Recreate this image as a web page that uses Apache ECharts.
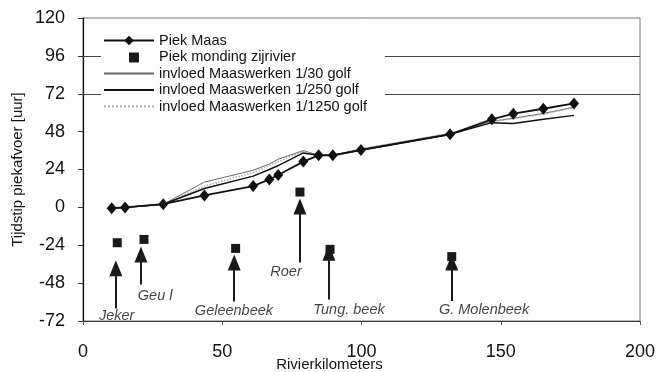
<!DOCTYPE html>
<html>
<head>
<meta charset="utf-8">
<script src="https://cdn.jsdelivr.net/npm/echarts@6/dist/echarts.min.js"></script>
<style>
html,body{margin:0;padding:0;background:#fff;}
#c{width:658px;height:372px;}
</style>
</head>
<body>
<div id="c"></div>
<script>
// Rivierkilometers of the points along the Maas
const km = [10.3, 15.1, 28.8, 43.6, 61.1, 66.9, 70.1, 79.1, 84.6, 89.7, 99.8, 131.8, 146.8, 154.5, 165.3, 176.3];
const piekMaas = [-0.5, 0, 2, 7.6, 13.5, 17.7, 20.5, 29, 33, 33, 36.3, 46.3, 55.8, 59.4, 62.5, 65.9];
const invloed30 = [-0.5, 0, 2, 16, 23.5, 27.5, 30.5, 36, 33, 33, 37, 46.8, 54.5, 56.5, 59.5, 63.5];
const invloed250 = [-0.5, 0, 2, 12, 19.8, 24, 26.5, 34.5, 33, 33, 36.3, 46.3, 53.7, 53.2, 55.8, 58.3];
const invloed1250 = [-0.5, 0, 2, 13.5, 22, 26.5, 29, 35.5, 33, 33, 37, 46.8, 54.3, 56.2, 59, 63.2];

// tributaries
const zijrivierNamen = ['Jeker', 'Geu l', 'Geleenbeek', 'Roer', 'Tung. beek', 'G. Molenbeek'];
const zijrivierKm = [12.3, 21.9, 54.8, 77.9, 88.7, 132.4];
const zijrivierPiek = [-22.4, -20.3, -26, 9.7, -26.6, -31.2];
const pijlKm = [11.8, 20.8, 54.3, 77.9, 88.3, 132.4];
const pijlPunt = [-38.5, -29.8, -35, 0.5, -28.7, -35];
const pijlStaart = [-64, -48.8, -59.6, -35, -58.3, -59.4];
const naamKm = [12.1, 25.9, 54.2, 72.9, 95.5, 144];
const naamY = [-68.9, -56.4, -65.9, -41.2, -65.3, -65.3];

const yTickMin = -72, yTickMax = 120, yTickStep = 24;
const xTickMin = 0, xTickMax = 200, xTickStep = 50;
const horizontaleLijnen = [96, 72];

const FONT = '"Liberation Sans", Arial, sans-serif';
const pair = (xs, ys) => xs.map((x, i) => [x, ys[i]]);
const legendNames = ['Piek Maas', 'Piek monding zijrivier', 'invloed Maaswerken 1/30 golf', 'invloed Maaswerken 1/250 golf', 'invloed Maaswerken 1/1250 golf'];

const chart = echarts.init(document.getElementById('c'), null, {renderer: 'canvas'});
chart.setOption({
  animation: false,
  backgroundColor: '#fff',
  textStyle: {fontFamily: FONT, color: '#111'},
  grid: {left: 83, right: 18, top: 18, bottom: 51, containLabel: false, outerBoundsMode: 'none',
    show: true, borderColor: '#777', borderWidth: 1, backgroundColor: 'transparent'},
  legend: [
    {
      left: 101, top: 31, orient: 'vertical', zlevel: 1, z: 20,
      itemWidth: 50, itemHeight: 12, itemGap: 1.5,
      backgroundColor: '#fff', padding: [2, 18, 2, 2],
      textStyle: {fontFamily: FONT, fontSize: 14.5, lineHeight: 15, color: '#111'},
      data: legendNames.map((n, i) => i === 1 ? {name: n, itemStyle: {opacity: 0}} : {name: n})
    },
    {
      left: 129, top: 50, orient: 'vertical', zlevel: 1, z: 21,
      itemWidth: 10, itemHeight: 10, padding: 0,
      backgroundColor: 'transparent',
      textStyle: {fontFamily: FONT, fontSize: 14.5, lineHeight: 15, color: 'rgba(0,0,0,0)'},
      data: [legendNames[1]]
    }
  ],
  xAxis: {
    type: 'value', min: xTickMin, max: xTickMax, interval: xTickStep,
    name: 'Rivierkilometers', nameLocation: 'middle', nameGap: 36, nameMoveOverlap: false,
    nameTextStyle: {fontFamily: FONT, fontSize: 15, color: '#111', padding: [0, 64, 0, 0]},
    axisLine: {show: true, onZero: false, lineStyle: {color: '#333', width: 1}},
    axisTick: {show: true, length: 4, lineStyle: {color: '#555'}},
    axisLabel: {fontFamily: FONT, fontSize: 18, color: '#111', margin: 22},
    splitLine: {show: false}
  },
  yAxis: {
    type: 'value', min: yTickMin, max: yTickMax, interval: yTickStep,
    name: 'Tijdstip piekafvoer [uur]', nameLocation: 'middle', nameGap: 58, nameMoveOverlap: false,
    nameTextStyle: {fontFamily: FONT, fontSize: 15, color: '#111'},
    axisLine: {show: true, lineStyle: {color: '#111', width: 1.2}},
    axisTick: {show: true, length: 5, lineStyle: {color: '#333'}},
    axisLabel: {fontFamily: FONT, fontSize: 18, color: '#111', margin: 18},
    splitLine: {show: false}
  },
  series: [
    {
      name: 'invloed Maaswerken 1/30 golf', type: 'line', data: pair(km, invloed30),
      symbol: 'none', itemStyle: {color: '#666', opacity: 0},
      lineStyle: {color: '#666', width: 1}, z: 3,
      markLine: {
        silent: true, symbol: 'none', label: {show: false},
        lineStyle: {color: '#444', width: 1, type: 'solid', opacity: 1},
        data: horizontaleLijnen.map(v => ({yAxis: v}))
      }
    },
    {
      name: 'invloed Maaswerken 1/1250 golf', type: 'line', data: pair(km, invloed1250),
      symbol: 'none', itemStyle: {color: '#aaa', opacity: 0},
      lineStyle: {color: '#aaa', width: 1.5, type: 'dotted'}, z: 3
    },
    {
      name: 'invloed Maaswerken 1/250 golf', type: 'line', data: pair(km, invloed250),
      symbol: 'none', itemStyle: {color: '#111', opacity: 0},
      lineStyle: {color: '#111', width: 1.5}, z: 3
    },
    {
      name: 'Piek Maas', type: 'line', data: pair(km, piekMaas),
      symbol: 'diamond', symbolSize: [10, 12], showSymbol: true,
      itemStyle: {color: '#111'}, lineStyle: {color: '#111', width: 1.8}, z: 4
    },
    {
      name: 'Piek monding zijrivier', type: 'scatter', data: pair(zijrivierKm, zijrivierPiek),
      symbol: 'rect', symbolSize: 9,
      itemStyle: {color: '#1a1a1a', opacity: 1}, z: 4,
      markLine: {
        silent: true, symbol: ['none', 'triangle'], symbolSize: [13, 16],
        label: {show: false},
        lineStyle: {color: '#1a1a1a', width: 2, type: 'solid', opacity: 1},
        data: pijlKm.map((x, i) => [{coord: [x, pijlStaart[i]]}, {coord: [x, pijlPunt[i]]}])
      }
    },
    {
      name: 'namen', type: 'scatter', symbolSize: 0, silent: true,
      data: naamKm.map((x, i) => ({value: [x, naamY[i]], name: zijrivierNamen[i]})),
      label: {show: true, position: 'inside', formatter: p => p.name,
        fontFamily: FONT, fontSize: 14.5, fontStyle: 'italic', color: '#111'},
      z: 5
    }
  ]
});
</script>
</body>
</html>
